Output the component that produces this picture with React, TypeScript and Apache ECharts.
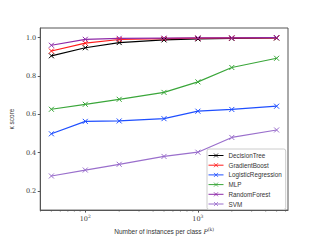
import React, { useEffect, useRef } from "react";
import * as echarts from "echarts";

const instances = [50, 100, 200, 500, 1000, 2000, 5000];
const decisionTree = [0.905, 0.947, 0.974, 0.988, 0.993, 0.996, 0.998];
const gradientBoost = [0.93, 0.971, 0.99, 0.995, 0.997, 0.998, 0.999];
const logisticRegression = [0.498, 0.563, 0.565, 0.577, 0.616, 0.625, 0.642];
const mlp = [0.626, 0.652, 0.678, 0.714, 0.769, 0.844, 0.892];
const randomForest = [0.96, 0.991, 0.996, 0.997, 0.998, 0.998, 1.0];
const svm = [0.278, 0.309, 0.339, 0.38, 0.402, 0.479, 0.518];
const minorTicks = [40, 50, 60, 70, 80, 90, 200, 300, 400, 500, 600, 700, 800, 900, 2000, 3000, 4000, 5000, 6000];

const seriesDefs = [
  { name: "DecisionTree", data: decisionTree, color: "#000000" },
  { name: "GradientBoost", data: gradientBoost, color: "#ff1a1a" },
  { name: "LogisticRegression", data: logisticRegression, color: "#1f4fff" },
  { name: "MLP", data: mlp, color: "#3aa63a" },
  { name: "RandomForest", data: randomForest, color: "#8e2aa8" },
  { name: "SVM", data: svm, color: "#9a6fcc" },
];

const X_MIN = 39.8;
const X_MAX = 6310;
const Y_MIN = 0.1;
const Y_MAX = 1.05;
const AXIS_COLOR = "#555";
const CROSS = "path://M0,0L10,10M10,0L0,10";

export default function App() {
  const ref = useRef<HTMLDivElement>(null);
  useEffect(() => {
    if (!ref.current) return;
    const chart = echarts.init(ref.current, null, { renderer: "svg" });
    const lineSeries = seriesDefs.map((s) => ({
      name: s.name,
      type: "line",
      data: instances.map((x, i) => [x, s.data[i]]),
      symbol: CROSS,
      symbolSize: 5,
      showSymbol: true,
      lineStyle: { color: s.color, width: 1.2 },
      itemStyle: { color: s.color, borderColor: s.color, borderWidth: 1 },
      z: 3,
    }));
    chart.setOption({
      animation: false,
      backgroundColor: "#ffffff",
      grid: { left: 40, right: 32, top: 28, bottom: 27, show: true, borderColor: AXIS_COLOR, borderWidth: 1 },
      legend: {
        data: seriesDefs.map((s) => s.name),
        orient: "vertical",
        left: 207,
        top: 149,
        itemWidth: 15,
        itemHeight: 5,
        itemGap: 2.7,
        padding: [3, 4, 2, 1],
        backgroundColor: "#ffffff",
        borderColor: "#cccccc",
        borderWidth: 1,
        borderRadius: 2,
        lineStyle: { width: 1 },
        itemStyle: { borderWidth: 0.8 },
        textStyle: { fontFamily: "Liberation Sans", fontSize: 6.3, lineHeight: 7, color: "#333", padding: [0, 0, 0, 0] },
      },
      xAxis: {
        type: "log",
        logBase: 10,
        min: X_MIN,
        max: X_MAX,
        name: "Number of instances per class {i|P}{s|(k)}",
        nameLocation: "middle",
        nameGap: 14,
        nameTextStyle: {
          fontFamily: "Liberation Sans",
          fontSize: 6.5,
          color: "#333",
          rich: {
            i: { fontFamily: "DejaVu Serif", fontStyle: "italic", fontSize: 6.5, color: "#333" },
            s: { fontFamily: "DejaVu Serif", fontSize: 4.5, color: "#333", verticalAlign: "top", padding: [0, 0, 4, 0] },
          },
        },
        axisLine: { show: true, lineStyle: { color: AXIS_COLOR, width: 1 } },
        axisTick: { show: true, inside: false, length: 2.5, lineStyle: { color: AXIS_COLOR } },
        splitLine: { show: false },
        axisLabel: {
          showMinLabel: false,
          showMaxLabel: false,
          margin: 4,
          fontFamily: "DejaVu Serif",
          fontSize: 6.5,
          color: "#333",
          formatter: (v: number) => {
            const l = Math.log10(v);
            if (Math.abs(l - Math.round(l)) < 1e-6) return `10{s|${Math.round(l)}}`;
            return "";
          },
          rich: {
            s: { fontFamily: "DejaVu Serif", fontSize: 4.5, color: "#333", verticalAlign: "top", padding: [0, 0, 4, 0] },
          },
        },
      },
      yAxis: {
        type: "value",
        min: Y_MIN,
        max: Y_MAX,
        minInterval: 0.2,
        maxInterval: 0.2,
        name: "κ score",
        nameLocation: "middle",
        nameRotate: 90,
        nameGap: 21,
        nameTextStyle: { fontFamily: "Liberation Sans", fontSize: 6.5, color: "#333" },
        axisLine: { show: true, lineStyle: { color: AXIS_COLOR, width: 1 } },
        axisTick: { show: true, inside: false, length: 2.5, lineStyle: { color: AXIS_COLOR } },
        splitLine: { show: false },
        axisLabel: {
          showMinLabel: false,
          showMaxLabel: false,
          margin: 4,
          fontFamily: "DejaVu Serif",
          fontSize: 6.5,
          color: "#333",
          formatter: (v: number) => v.toFixed(1),
        },
      },
      series: [
        ...lineSeries,
        {
          name: "minorTicks",
          type: "custom",
          silent: true,
          clip: false,
          data: minorTicks.map((v) => [v, Y_MIN]),
          renderItem: (params: any, api: any) => {
            const p = api.coord([api.value(0), Y_MIN]);
            return {
              type: "line",
              shape: { x1: p[0], y1: p[1], x2: p[0], y2: p[1] + 1.5 },
              style: { stroke: AXIS_COLOR, lineWidth: 0.7 },
            };
          },
        },
      ],
    });
    return () => chart.dispose();
  }, []);
  return <div ref={ref} style={{ width: 320, height: 240, position: "absolute", left: 0, top: 0 }} />;
}
